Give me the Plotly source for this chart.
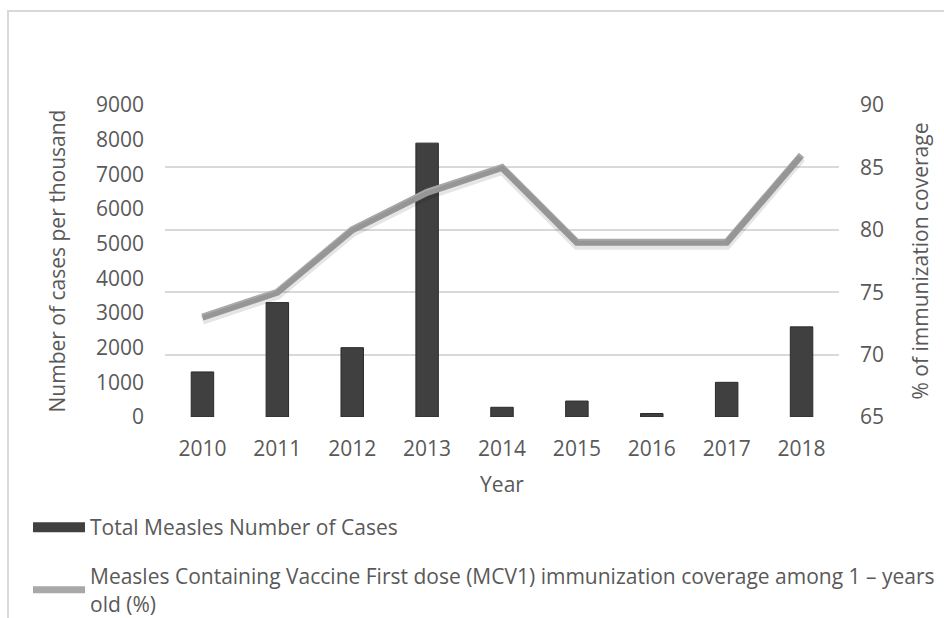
import plotly.graph_objects as go

years = ["2010", "2011", "2012", "2013", "2014", "2015", "2016", "2017", "2018"]
cases = [1300, 3300, 2000, 7900, 280, 460, 100, 1000, 2600]
coverage = [73, 75, 80, 83, 85, 79, 79, 79, 86]

left_ticks = [0, 1000, 2000, 3000, 4000, 5000, 6000, 7000, 8000, 9000]
right_ticks = [65, 70, 75, 80, 85, 90]

bar_name = "Total Measles Number of Cases"
line_name = ("Measles Containing Vaccine First dose (MCV1) immunization coverage among 1 \u2013 years<br>"
             "old (%)")

FONT = "Open Sans, Noto Sans, DejaVu Sans, sans-serif"
TXT = "#595959"
BAR = "#404040"
LINE = "#a8a8a8"

W, H = 944, 618
L, R, T, B = 165, 105, 105, 201
pw, ph = W - L - R, H - T - B

def px_x(x):
    return (x - L) / pw

def px_y(y):
    return (H - B - y) / ph

fig = go.Figure()

fig.add_trace(go.Bar(
    x=years, y=cases, name=bar_name, width=0.30,
    marker=dict(color=BAR, line=dict(color="#2a2a2a", width=1)),
    yaxis="y", showlegend=False, legendgroup="cases",
))

# legend entry for the bars (wide flat symbol like the original)
fig.add_trace(go.Scatter(
    x=[None], y=[None], mode="lines", name=bar_name,
    line=dict(color=BAR, width=11),
    legend="legend", legendgroup="cases", hoverinfo="skip",
))

# soft shadow for the line (drawn on a slightly shifted scale)
fig.add_trace(go.Scatter(
    x=years, y=coverage, mode="lines", showlegend=False, hoverinfo="skip",
    line=dict(color="rgba(0,0,0,0.10)", width=9),
    yaxis="y3", legendgroup="cov",
))

fig.add_trace(go.Scatter(
    x=years, y=coverage, mode="lines", name=line_name,
    line=dict(color=LINE, width=7),
    yaxis="y2", legend="legend2", legendgroup="cov",
))

shift = 3 / ph * 25  # 3 px expressed in y2 units

fig.update_layout(
    width=W, height=H,
    margin=dict(l=L, r=R, t=T, b=B, autoexpand=False),
    paper_bgcolor="white", plot_bgcolor="white",
    font=dict(family=FONT, size=21, color=TXT),
    xaxis=dict(
        type="category", range=[-0.5, 8.5],
        showgrid=False, showline=False, zeroline=False,
        tickfont=dict(size=21, color=TXT),
        ticklabelstandoff=17,
        title=dict(text="Year", font=dict(size=21, color=TXT), standoff=16),
    ),
    yaxis=dict(
        range=[0, 9000], tickvals=left_ticks,
        showgrid=False, zeroline=False, showline=False,
        tickfont=dict(size=21, color=TXT),
        ticklabelstandoff=20,
        title=dict(text="Number of cases per thousand", font=dict(size=21, color=TXT), standoff=24),
    ),
    yaxis2=dict(
        overlaying="y", side="right",
        range=[65, 90], tickvals=right_ticks,
        showgrid=True, gridcolor="#d9d9d9", gridwidth=1.5,
        zeroline=False, showline=False,
        tickfont=dict(size=21, color=TXT),
        ticklabelstandoff=20,
        title=dict(text="% of immunization coverage", font=dict(size=21, color=TXT), standoff=30),
    ),
    yaxis3=dict(
        overlaying="y", side="right", visible=False,
        range=[65 + shift, 90 + shift],
    ),
    legend=dict(
        x=px_x(28), y=px_y(507), xanchor="left", yanchor="top",
        bgcolor="rgba(0,0,0,0)", font=dict(size=21, color=TXT),
        itemwidth=52, tracegroupgap=0,
    ),
    legend2=dict(
        x=px_x(28), y=px_y(556), xanchor="left", yanchor="top",
        bgcolor="rgba(0,0,0,0)", font=dict(size=21, color=TXT),
        itemwidth=52, tracegroupgap=0,
    ),
    shapes=[dict(
        type="rect", xref="paper", yref="paper",
        x0=px_x(8), x1=px_x(960), y0=px_y(640), y1=px_y(11),
        line=dict(color="#d9d9d9", width=2), fillcolor="rgba(0,0,0,0)", layer="below",
    )],
)

fig.write_html("out.html")
